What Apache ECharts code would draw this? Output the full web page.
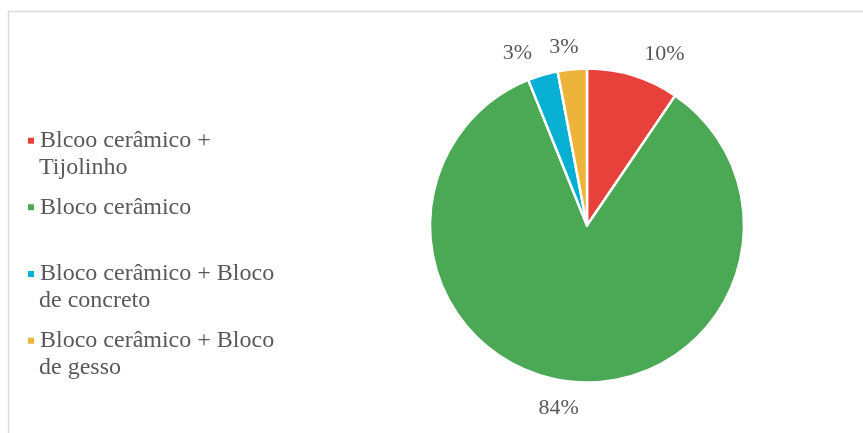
<!DOCTYPE html>
<html>
<head>
<meta charset="utf-8">
<script src="https://cdn.jsdelivr.net/npm/echarts@6/dist/echarts.min.js"></script>
<style>
html,body{margin:0;padding:0;background:#fff;}
#chart{width:863px;height:433px;}
</style>
</head>
<body>
<div id="chart"></div>
<script>
// ---- data ----
const categories = ['Blcoo cerâmico + Tijolinho', 'Bloco cerâmico', 'Bloco cerâmico + Bloco de concreto', 'Bloco cerâmico + Bloco de gesso'];
const legendLines = [['Blcoo cerâmico +', 'Tijolinho'], ['Bloco cerâmico'], ['Bloco cerâmico + Bloco', 'de concreto'], ['Bloco cerâmico + Bloco', 'de gesso']];
const values = [9.5, 84.4, 3.1, 3.0];
const colors = ['#E8403A', '#4BA855', '#07B0D3', '#EEB33B'];

// ---- layout / style ----
const cx = 587, cy = 225.5, R = 157;
const FONT = '"Liberation Serif", "Times New Roman", serif';
const TXT = '#595959';
const legendFirstLineY = [140.7, 207.3, 274, 340.7];
const LH = 26.7;
const LEG_LEFT = 26, ICON = 8, ICON_GAP = 7;

const chart = echarts.init(document.getElementById('chart'), null, {renderer: 'canvas'});
const total = values.reduce((a, b) => a + b, 0);

// one legend per text line; the marker is only coloured on an entry's first line
const legends = [];
categories.forEach((name, i) => {
  legendLines[i].forEach((line, j) => {
    legends.push({
      orient: 'vertical',
      left: LEG_LEFT,
      top: legendFirstLineY[i] + j * LH - 13.5,
      padding: 0,
      itemWidth: ICON,
      itemHeight: ICON,
      itemGap: ICON_GAP,
      icon: 'rect',
      selectedMode: false,
      itemStyle: j === 0 ? {} : {color: 'rgba(255,255,255,0)', borderWidth: 0},
      data: [name],
      formatter: () => line,
      textStyle: {
        fontFamily: FONT,
        fontSize: 24,
        color: TXT,
        lineHeight: 27
      }
    });
  });
});

chart.setOption({
  animation: false,
  backgroundColor: '#fff',
  color: colors,
  graphic: [{
    type: 'rect',
    silent: true,
    shape: {x: 8.5, y: 11.5, width: 900, height: 500},
    style: {fill: 'none', stroke: '#d9d9d9', lineWidth: 1.3}
  }],
  legend: legends,
  series: [{
    type: 'pie',
    center: [cx, cy],
    radius: R,
    startAngle: 90,
    clockwise: true,
    avoidLabelOverlap: false,
    itemStyle: {borderColor: '#fff', borderWidth: 2.5},
    label: {
      show: true,
      position: 'outside',
      fontFamily: FONT,
      fontSize: 22,
      color: TXT,
      formatter: p => Math.round(p.percent) + '%'
    },
    labelLine: {show: true, length: 10, length2: 0, lineStyle: {opacity: 0, width: 0}},
    emphasis: {disabled: true},
    labelLayout: function (params) {
      const i = params.dataIndex;
      let cum = 0;
      for (let k = 0; k < i; k++) cum += values[k];
      const ang = (cum + values[i] / 2) / total * Math.PI * 2;
      const ux = Math.sin(ang), uy = -Math.cos(ang);
      const d = R + 17;
      const px = cx + d * ux, py = cy + d * uy;
      const w = params.labelRect.width;
      const gh = 15;
      const clamp = v => Math.max(-1, Math.min(1, v));
      return {
        x: px + (w / 2 + 6) * clamp(ux * 3.5),
        y: py + (gh / 2) * clamp(uy * 3.5) + 2.5,
        align: 'center',
        verticalAlign: 'middle'
      };
    },
    data: categories.map((name, i) => ({name: name, value: values[i]}))
  }]
});
</script>
</body>
</html>
